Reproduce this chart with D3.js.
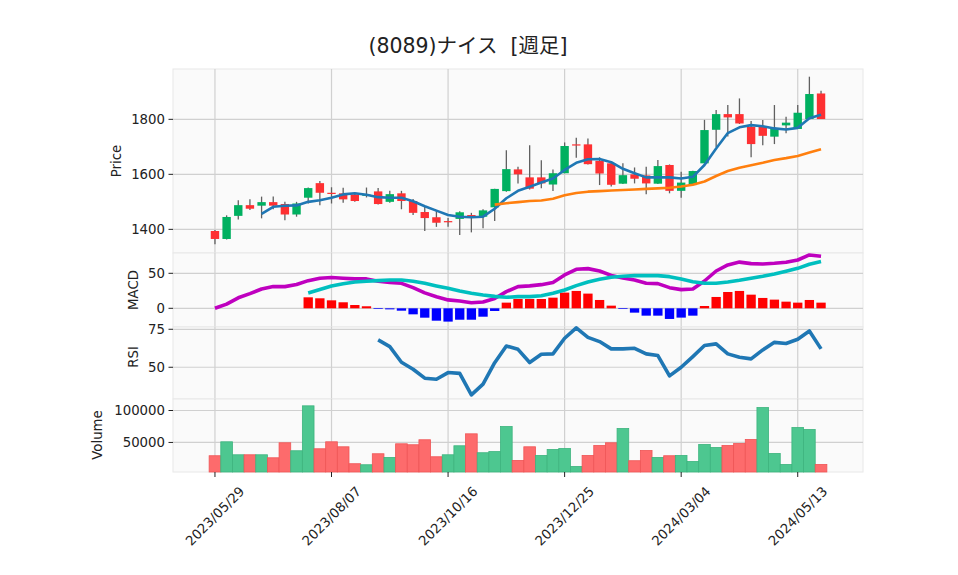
<!DOCTYPE html>
<html>
<head>
<meta charset="utf-8">
<title>(8089)ナイス [週足]</title>
<script src="https://d3js.org/d3.v7.min.js"></script>
<style>
  body { margin: 0; background: #fff; }
  text { font-family: "DejaVu Sans", "Noto Sans CJK JP", sans-serif; fill: #222; }
</style>
</head>
<body>
<div id="chart"></div>
<script>
// weekly candles, 2023/05/29 .. 2024/05/20 (53 weeks)
var opens  = [1394,1365,1449,1488,1486,1499,1492,1454,1515,1568,1533,1531,1527,1524,1538,1500,1531,1503,1463,1444,
              1430,1438,1452,1446,1480,1539,1618,1589,1589,1563,1604,1709,1709,1649,1640,1566,1600,1596,1566,1634,
              1540,1561,1640,1762,1819,1819,1773,1773,1737,1778,1765,1801,1894];
var highs  = [1398,1451,1506,1509,1519,1519,1500,1500,1552,1576,1553,1551,1529,1552,1550,1540,1540,1510,1482,1470,
              1441,1466,1460,1473,1548,1688,1628,1706,1651,1618,1716,1733,1730,1662,1642,1640,1625,1628,1652,1636,
              1609,1613,1798,1834,1852,1876,1794,1798,1852,1809,1852,1955,1904];
var lows   = [1346,1363,1436,1470,1440,1473,1433,1446,1494,1488,1494,1497,1500,1516,1490,1497,1473,1452,1394,1409,
              1409,1379,1389,1404,1430,1537,1567,1545,1549,1539,1604,1660,1636,1561,1556,1565,1567,1528,1565,1531,
              1515,1561,1640,1699,1738,1783,1662,1706,1710,1749,1765,1801,1801];
var closes = [1365,1445,1488,1475,1499,1486,1454,1494,1550,1533,1530,1509,1503,1526,1492,1528,1503,1460,1441,1424,
              1428,1462,1446,1469,1547,1619,1600,1548,1567,1604,1703,1706,1637,1603,1562,1597,1584,1567,1630,1540,
              1570,1612,1761,1819,1807,1785,1710,1740,1767,1788,1824,1892,1801];
var volumes = [29200,51000,30700,30700,30700,26000,49500,37000,107300,40100,51000,43200,16700,15100,32300,26600,47900,46400,54200,27600,
               30700,44800,63500,33900,35700,75000,21900,43200,29700,39100,40600,12500,29700,45300,49500,71900,21400,37500,26600,29200,
               29700,20300,46900,42200,45300,48400,54700,104700,32800,15600,73400,70300,15600];

// moving averages (start at week 4 and week 24)
var ma5 = [1456,1482,1486,1487,1500,1506,1515,1527,1531,1526,1517,1515,1515,1502,1484,1468,1452,1446,1444,1446,
           1475,1513,1540,1555,1570,1585,1616,1642,1655,1656,1644,1620,1604,1589,1589,1589,1585,1591,1634,1694,
           1750,1771,1779,1775,1767,1763,1769,1804,1817];
var ma25 = [1490,1495,1499,1503,1505,1511,1524,1532,1537,1539,1541,1543,1545,1547,1549,1551,1556,1562,1574,1594,
            1612,1624,1633,1642,1652,1659,1667,1679,1691];

// MACD (line from week 0, signal and histogram from week 8)
var macd = [0,6,15,21,27.6,31,31,34,39.5,43,44,43,42,42,38.6,37,35.7,29.5,22,16.6,12,10.4,8,9,14,23.8,31,32,33.8,37,
            47.6,55.7,56.7,53.3,47,43.3,40.5,35.7,35.2,29.5,26.7,27.6,39,53.3,62,66,63.8,63.3,64.3,65.7,69,76.2,74.3];
var signal = [22,27,32,35,37.6,38.6,39.5,40.4,40.4,38.6,35.7,32,28.6,24.7,21.4,19,17,15.7,16.7,16.7,18,21.4,26.2,32.4,37.6,
              41.4,44.3,45.7,46.7,46.7,46.7,45.2,41.9,38,35.7,35.7,37.6,40,42.9,45.7,49,52.9,57.1,62.9,66.7];
var hist = [15.7,14.3,11.4,8.6,4.7,2.9,-1,-1.5,-3.4,-8.6,-13.4,-17.7,-19,-16.3,-16.3,-12,-3.8,8.1,13.3,13.3,13.3,15.2,22.4,
            24.8,21,11.9,3.8,-1,-6.2,-10.5,-10.5,-15.2,-13.3,-10.5,3.3,16.2,23.3,24.8,19.5,14.8,12.4,9.5,8.1,11.9,8.1];

// RSI from week 14
var rsi = [68,63.6,53.3,48.7,42.8,42.1,46.5,46,31.8,38.9,53,64,61.8,53.1,58.6,58.8,69.1,75.9,69.7,66.9,
           62.1,62.1,62.5,58.8,57.7,44.3,50,57,64.3,65.4,58.8,56.6,55.5,61.4,66.4,65.6,68.4,73.9,62.1];

var tickIdx = [0,10,20,30,40,50];
var tickLabels = ["2023/05/29","2023/08/07","2023/10/16","2023/12/25","2024/03/04","2024/05/13"];

var svg = d3.select("#chart").append("svg")
    .attr("width", 958)
    .attr("height", 575);

var x = d3.scaleLinear().domain([-3.6, 55.6]).range([173, 863]);
var step = x(1) - x(0);

var panels = [
  {name:"Price",  top:69,  bottom:253, domain:[1314,1983],  ticks:[1400,1600,1800], lx:116, ly:161},
  {name:"MACD",   top:253, bottom:327, domain:[-26.7,79],   ticks:[0,50],           lx:133, ly:290},
  {name:"RSI",    top:327, bottom:399, domain:[29.1,76.5],  ticks:[50,75],          lx:133, ly:357},
  {name:"Volume", top:399, bottom:472, domain:[3750,118000],ticks:[50000,100000],   lx:97,  ly:435}
];

panels.forEach(function(p) {
  p.y = d3.scaleLinear().domain(p.domain).range([p.bottom, p.top]);
  var g = svg.append("g");
  g.append("rect")
    .attr("x", 173).attr("y", p.top)
    .attr("width", 690).attr("height", p.bottom - p.top)
    .attr("fill", "#fafafa").attr("stroke", "#e8e8e8");
  // grid
  g.selectAll(".vg").data(tickIdx).enter().append("line")
    .attr("x1", function(d) { return x(d); }).attr("x2", function(d) { return x(d); })
    .attr("y1", p.top).attr("y2", p.bottom)
    .attr("stroke", "#d0d0d0").attr("stroke-width", 1.2);
  g.selectAll(".hg").data(p.ticks).enter().append("line")
    .attr("x1", 173).attr("x2", 863)
    .attr("y1", function(d) { return p.y(d); }).attr("y2", function(d) { return p.y(d); })
    .attr("stroke", "#d0d0d0").attr("stroke-width", 1.2);
  // y ticks
  g.selectAll(".tk").data(p.ticks).enter().append("line")
    .attr("x1", 168.5).attr("x2", 173)
    .attr("y1", function(d) { return p.y(d); }).attr("y2", function(d) { return p.y(d); })
    .attr("stroke", "#222");
  g.selectAll(".tl").data(p.ticks).enter().append("text")
    .attr("x", 165).attr("y", function(d) { return p.y(d); })
    .attr("dy", "0.35em")
    .attr("text-anchor", "end")
    .style("font-size", "13.3px")
    .text(function(d) { return d; });
  g.append("text")
    .attr("transform", "translate(" + p.lx + "," + p.ly + ") rotate(-90)")
    .attr("dy", "0.35em")
    .attr("text-anchor", "middle")
    .style("font-size", "13.3px")
    .text(p.name);
});

var yP = panels[0].y, yM = panels[1].y, yR = panels[2].y, yV = panels[3].y;

// volume
svg.append("g").selectAll("rect")
  .data(volumes).enter().append("rect")
  .attr("x", function(d, i) { return x(i) - step / 2; })
  .attr("width", step)
  .attr("y", function(d) { return yV(d); })
  .attr("height", function(d) { return 472 - yV(d); })
  .attr("fill", function(d, i) {
    var up = i == 0 ? closes[0] >= opens[0] : closes[i] >= closes[i - 1];
    return up ? "#4dc790" : "#fd6b6c";
  })
  .attr("stroke", function(d, i) {
    var up = i == 0 ? closes[0] >= opens[0] : closes[i] >= closes[i - 1];
    return up ? "#3db47e" : "#ef5556";
  })
  .attr("stroke-width", 0.8);

// MACD histogram
svg.append("g").selectAll("rect")
  .data(hist).enter().append("rect")
  .attr("x", function(d, i) { return x(i + 8) - step * 0.4; })
  .attr("width", step * 0.8)
  .attr("y", function(d) { return yM(Math.max(d, 0)); })
  .attr("height", function(d) { return Math.abs(yM(d) - yM(0)); })
  .attr("fill", function(d) { return d >= 0 ? "#ff0000" : "#0000ff"; });

// candles
var candles = svg.append("g").selectAll("g")
  .data(closes).enter().append("g");
candles.append("line")
  .attr("x1", function(d, i) { return x(i); }).attr("x2", function(d, i) { return x(i); })
  .attr("y1", function(d, i) { return yP(highs[i]); })
  .attr("y2", function(d, i) { return yP(lows[i]); })
  .attr("stroke", "#606060").attr("stroke-width", 1.3);
candles.append("rect")
  .attr("x", function(d, i) { return x(i) - step * 0.36; })
  .attr("width", step * 0.72)
  .attr("y", function(d, i) { return yP(Math.max(opens[i], d)); })
  .attr("height", function(d, i) { return Math.max(1.2, Math.abs(yP(opens[i]) - yP(d))); })
  .attr("fill", function(d, i) { return d >= opens[i] ? "#00b060" : "#fe3032"; });

function drawLine(vals, start, yScale, color, width) {
  var line = d3.line()
    .x(function(d, i) { return x(i + start); })
    .y(function(d) { return yScale(d); });
  svg.append("path")
    .datum(vals)
    .attr("d", line)
    .attr("fill", "none")
    .attr("stroke", color)
    .attr("stroke-width", width)
    .attr("stroke-linejoin", "round");
}
drawLine(ma5, 4, yP, "#1f77b4", 2.6);
drawLine(ma25, 24, yP, "#ff7f0e", 2.6);
drawLine(macd, 0, yM, "#bf00bf", 3.6);
drawLine(signal, 8, yM, "#00bfbf", 3.6);
drawLine(rsi, 14, yR, "#1f77b4", 3.6);

// x axis
var xa = svg.append("g");
xa.selectAll("line").data(tickIdx).enter().append("line")
  .attr("x1", function(d) { return x(d); }).attr("x2", function(d) { return x(d); })
  .attr("y1", 472).attr("y2", 477)
  .attr("stroke", "#222");
xa.selectAll("text").data(tickIdx).enter().append("text")
  .attr("transform", function(d) { return "translate(" + x(d) + ",516) rotate(-45)"; })
  .attr("dy", "0.35em")
  .attr("text-anchor", "middle")
  .style("font-size", "13.3px")
  .text(function(d, i) { return tickLabels[i]; });

// title
svg.append("text")
  .attr("x", 468).attr("y", 53)
  .attr("text-anchor", "middle")
  .style("font-size", "20.5px")
  .style("white-space", "pre")
  .text("(8089)ナイス  [週足]");
</script>
</body>
</html>
